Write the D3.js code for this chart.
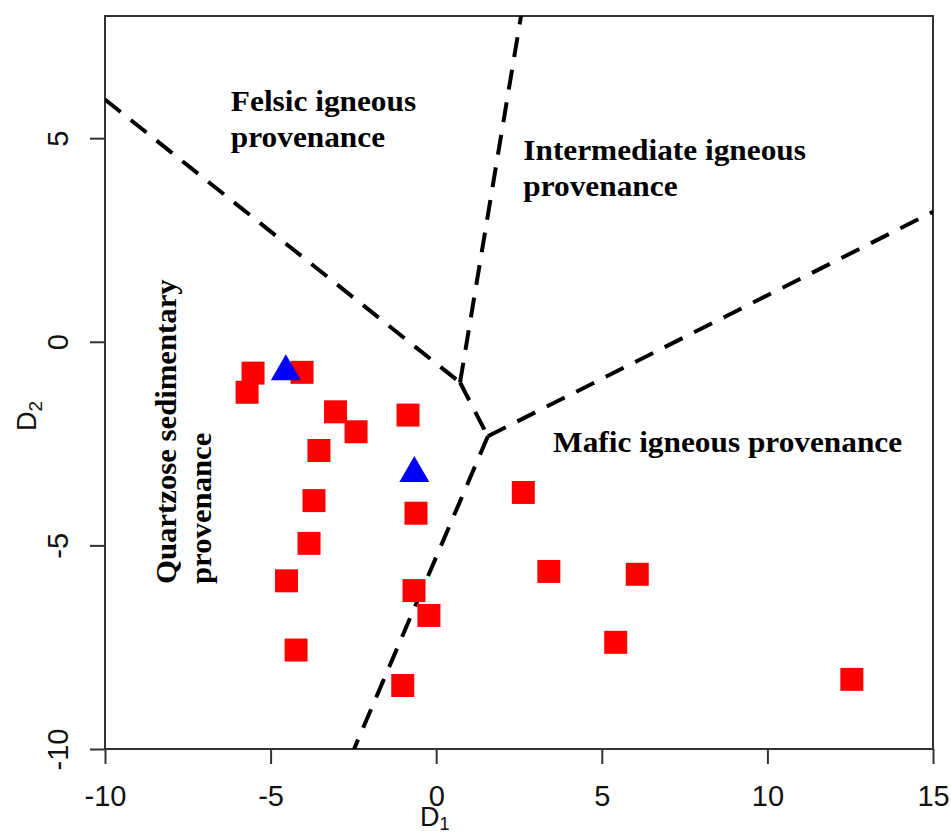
<!DOCTYPE html>
<html>
<head>
<meta charset="utf-8">
<script src="https://cdn.jsdelivr.net/npm/d3@7"></script>
<style>
  body { margin: 0; background: #fff; }
  svg { display: block; }
</style>
</head>
<body>
<div id="chart"></div>
<script>
// sample scores (D1, D2)
var squareD1 = [-5.53, -5.71, -4.05, -3.04, -2.42, -3.54, -3.69, -3.84, -4.52, -4.23,
                -0.85, -0.61, -0.67, -0.22, -1.01, 2.63, 3.40, 6.07, 5.42, 12.55];
var squareD2 = [-0.77, -1.24, -0.75, -1.72, -2.21, -2.67, -3.90, -4.95, -5.87, -7.57,
                -1.80, -4.21, -6.11, -6.72, -8.44, -3.70, -5.64, -5.71, -7.38, -8.29];
var triangleD1 = [-4.54, -0.66];
var triangleD2 = [-0.73, -3.23];

// field boundaries, each drawn from its first point
var boundaries = [
  [[-10, 5.95], [0.72, -1.0]],
  [[0.72, -1.0], [2.56, 8]],
  [[0.72, -1.0], [1.56, -2.32]],
  [[1.56, -2.32], [15, 3.19]],
  [[1.56, -2.32], [-2.48, -10]]
];

var xTicks = [-10, -5, 0, 5, 10, 15];
var yTicks = [-10, -5, 0, 5];

var fieldLabels = [
  {lines: ["Felsic igneous", "provenance"], d1: -6.2, d2: 5.66},
  {lines: ["Intermediate igneous", "provenance"], d1: 2.63, d2: 4.47},
  {lines: ["Mafic igneous provenance"], d1: 3.53, d2: -2.71}
];

function drawChart() {
  var width = 951, height = 832;
  var pLeft = 105, pRight = 933, pTop = 16, pBottom = 749;

  var svg = d3.select("#chart")
    .append("svg")
      .attr("width", width)
      .attr("height", height);

  var x = d3.scaleLinear().domain([-10, 15]).range([pLeft, pRight]);
  var y = d3.scaleLinear().domain([-10, 8]).range([pBottom, pTop]);
  var fmt = function(d) { return String(d); };

  svg.append("defs").append("clipPath")
      .attr("id", "plotclip")
    .append("rect")
      .attr("x", pLeft).attr("y", pTop)
      .attr("width", pRight - pLeft).attr("height", pBottom - pTop);

  // x axis
  var xAxis = svg.append("g")
    .attr("transform", "translate(0," + pBottom + ")")
    .call(d3.axisBottom(x).tickValues(xTicks).tickSize(15).tickFormat(fmt));
  xAxis.select(".domain").remove();
  xAxis.selectAll(".tick line").attr("stroke", "#333").attr("stroke-width", 2);
  xAxis.selectAll(".tick text")
    .attr("y", 57).attr("dy", 0)
    .style("font-family", "'Liberation Sans', Arial, sans-serif")
    .style("font-size", "29px")
    .attr("fill", "#111");

  // y axis, labels turned like base R
  var yAxis = svg.append("g")
    .attr("transform", "translate(" + pLeft + ",0)")
    .call(d3.axisLeft(y).tickValues(yTicks).tickSize(15).tickFormat(fmt));
  yAxis.select(".domain").remove();
  yAxis.selectAll(".tick line").attr("stroke", "#333").attr("stroke-width", 2);
  yAxis.selectAll(".tick text")
    .attr("x", 0).attr("dy", 0)
    .attr("text-anchor", "middle")
    .attr("transform", "translate(-37,0) rotate(-90)")
    .style("font-family", "'Liberation Sans', Arial, sans-serif")
    .style("font-size", "29px")
    .attr("fill", "#111");

  // box
  svg.append("rect")
    .attr("x", pLeft).attr("y", pTop)
    .attr("width", pRight - pLeft).attr("height", pBottom - pTop)
    .attr("fill", "none")
    .attr("stroke", "#333")
    .attr("stroke-width", 2);

  // boundaries
  var line = d3.line()
    .x(function(d) { return x(d[0]); })
    .y(function(d) { return y(d[1]); });

  svg.append("g")
    .attr("clip-path", "url(#plotclip)")
    .selectAll("path")
    .data(boundaries)
    .enter()
    .append("path")
      .attr("d", line)
      .attr("fill", "none")
      .attr("stroke", "#000")
      .attr("stroke-width", 4)
      .attr("stroke-dasharray", "20,13");

  // field names (the source text is a bit wide, so stretch it)
  var labelG = svg.append("g")
    .style("font-family", "'Liberation Serif', 'Times New Roman', serif")
    .style("font-weight", "bold")
    .style("font-size", "29px")
    .attr("fill", "#000");

  labelG.selectAll("text.field")
    .data(fieldLabels)
    .enter()
    .append("text")
      .attr("class", "field")
      .attr("transform", function(d) { return "translate(" + x(d.d1) + "," + y(d.d2) + ") scale(1.08,1)"; })
    .selectAll("tspan")
    .data(function(d) { return d.lines.map(function(t, i) { return {t: t, i: i}; }); })
    .enter()
    .append("tspan")
      .attr("x", 0)
      .attr("dy", function(d) { return d.i === 0 ? 0 : 36; })
      .text(function(d) { return d.t; });

  // quartzose label, written upward
  var qz = labelG.append("text")
    .attr("transform", "translate(176,584) rotate(-90) scale(1.06,1)");
  qz.append("tspan").attr("x", 0).attr("y", 0).text("Quartzose sedimentary");
  qz.append("tspan").attr("x", 0).attr("y", 35).text("provenance");

  // points
  var squares = squareD1.map(function(d, i) { return [d, squareD2[i]]; });
  var triangles = triangleD1.map(function(d, i) { return [d, triangleD2[i]]; });

  svg.append("g")
    .selectAll("path")
    .data(squares)
    .enter()
    .append("path")
      .attr("transform", function(d) { return "translate(" + x(d[0]) + "," + y(d[1]) + ")"; })
      .attr("d", d3.symbol().type(d3.symbolSquare).size(529))
      .attr("fill", "#ff0000");

  svg.append("g")
    .selectAll("path")
    .data(triangles)
    .enter()
    .append("path")
      .attr("transform", function(d) { return "translate(" + x(d[0]) + "," + y(d[1]) + ")"; })
      .attr("d", d3.symbol().type(d3.symbolTriangle).size(390))
      .attr("fill", "#0000ff");

  // axis titles
  var xt = svg.append("text")
    .attr("x", 420).attr("y", 826)
    .style("font-family", "'Liberation Sans', Arial, sans-serif")
    .style("font-size", "27px")
    .attr("fill", "#111");
  xt.append("tspan").text("D");
  xt.append("tspan").attr("dy", 4).style("font-size", "18px").text("1");

  var yt = svg.append("text")
    .attr("transform", "translate(36,431) rotate(-90)")
    .style("font-family", "'Liberation Sans', Arial, sans-serif")
    .style("font-size", "27px")
    .attr("fill", "#111");
  yt.append("tspan").text("D");
  yt.append("tspan").attr("dy", 6).style("font-size", "19px").text("2");
}

drawChart();
</script>
</body>
</html>
